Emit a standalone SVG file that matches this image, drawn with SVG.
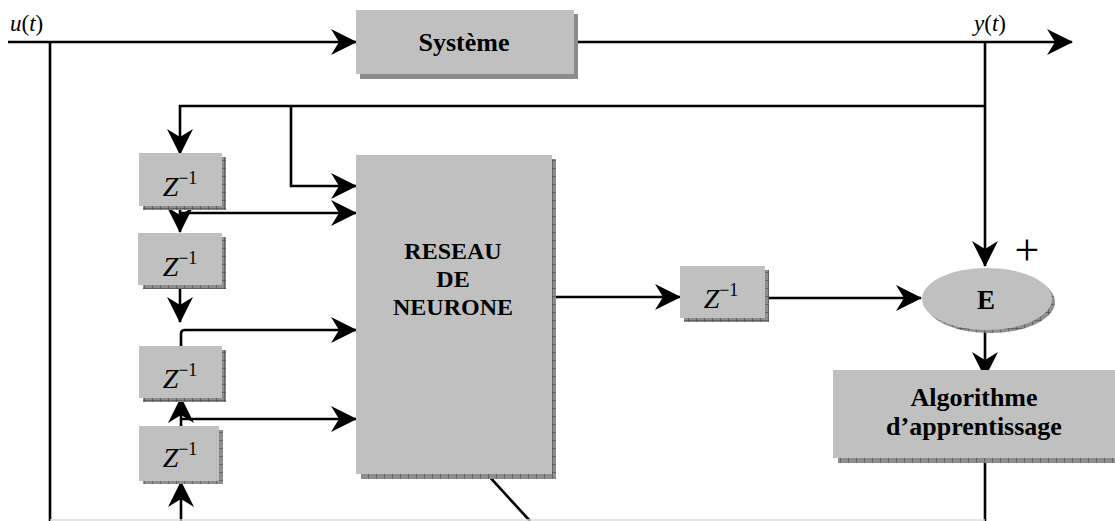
<svg xmlns="http://www.w3.org/2000/svg" width="1115" height="521" viewBox="0 0 1115 521">
  <defs>
    <style>
      .box { fill: #c0c0c0; }
      .shade { fill: url(#tick); }
      .flat { fill: #8c8c8c; }
      .wire { fill: none; stroke: #000; stroke-width: 2.6; }
      .arr { marker-end: url(#head); }
      .lbl { font-family: "Liberation Serif", "Times New Roman", serif; fill: #000; }
      .bold { font-weight: bold; }
      .z { font-size: 28px; }
      .sup { font-size: 18px; }
    </style>
    <pattern id="tick" width="8" height="8" patternUnits="userSpaceOnUse">
      <rect width="8" height="8" fill="#8e8e8e"/>
      <path d="M0,0 V8 M0,0 H8" stroke="#3a3a3a" stroke-width="1"/>
    </pattern>
    <marker id="head" viewBox="0 0 26 26" refX="25" refY="13" markerWidth="26" markerHeight="26" markerUnits="userSpaceOnUse" orient="auto">
      <path d="M0,0 L26,13 L0,26 L8,13 Z" fill="#000"/>
    </marker>
  </defs>

  <!-- signal wiring -->
  <g id="connectors">
    <path class="wire arr" d="M8,42 H356"/>
    <path class="wire arr" d="M574,42 H1072"/>
    <path class="wire" d="M50,42 V521"/>
    <path class="wire arr" d="M985,42 V266"/>
    <path class="wire arr" d="M985,106 H180 V154"/>
    <path class="wire arr" d="M291,106 V186 H356"/>
    <path class="wire arr" d="M180,206 V232"/>
    <path class="wire arr" d="M180,213 H356"/>
    <path class="wire arr" d="M180,285 V322"/>
    <path class="wire arr" d="M181,346 V334 Q181,330 185,330 H356"/>
    <path class="wire arr" d="M181,426 V398"/>
    <path class="wire arr" d="M181,419 H356"/>
    <path class="wire arr" d="M181,521 V482"/>
    <path class="wire" d="M487,474 L530,521"/>
    <path class="wire arr" d="M552,297 H680"/>
    <path class="wire arr" d="M768,298 H921"/>
    <path class="wire arr" d="M985,330 V377"/>
    <path class="wire" d="M985,458 V521"/>
    <path d="M50,520 H985" stroke="#dcdcdc" stroke-width="1.5" fill="none"/>
  </g>

  <!-- signal labels -->
  <g id="signal-u">
    <text class="lbl" x="10" y="31" font-size="23"><tspan font-style="italic">u</tspan>(<tspan font-style="italic">t</tspan>)</text>
  </g>
  <g id="signal-y">
    <text class="lbl" x="974" y="31" font-size="23"><tspan font-style="italic">y</tspan>(<tspan font-style="italic">t</tspan>)</text>
  </g>

  <g id="systeme">
    <rect class="flat" x="360" y="14" width="218" height="65"/>
    <rect class="box" x="356" y="10" width="218" height="64"/>
    <text class="lbl bold" x="464" y="51" font-size="26" text-anchor="middle">Système</text>
  </g>

  <g id="delay-1">
    <rect class="shade" x="143" y="157" width="83" height="53"/>
    <rect class="box" x="139" y="153" width="83" height="53"/>
    <text class="lbl z" x="180" y="196" text-anchor="middle"><tspan font-style="italic">Z</tspan><tspan class="sup" dy="-12">−1</tspan></text>
  </g>
  <g id="delay-2">
    <rect class="shade" x="143" y="237" width="83" height="52"/>
    <rect class="box" x="138" y="233" width="84" height="52"/>
    <text class="lbl z" x="180" y="276" text-anchor="middle"><tspan font-style="italic">Z</tspan><tspan class="sup" dy="-12">−1</tspan></text>
  </g>
  <g id="delay-3">
    <rect class="shade" x="143" y="350" width="83" height="52"/>
    <rect class="box" x="139" y="346" width="83" height="52"/>
    <text class="lbl z" x="180" y="388" text-anchor="middle"><tspan font-style="italic">Z</tspan><tspan class="sup" dy="-12">−1</tspan></text>
  </g>
  <g id="delay-4">
    <rect class="shade" x="143" y="430" width="80" height="54"/>
    <rect class="box" x="139" y="426" width="80" height="55"/>
    <text class="lbl z" x="180" y="467" text-anchor="middle"><tspan font-style="italic">Z</tspan><tspan class="sup" dy="-12">−1</tspan></text>
  </g>

  <g id="reseau">
    <rect class="shade" x="361" y="159" width="195" height="320"/>
    <rect class="box" x="356" y="155" width="196" height="319"/>
    <text class="lbl bold" x="453" y="259" font-size="24" text-anchor="middle">RESEAU</text>
    <text class="lbl bold" x="453" y="287" font-size="24" text-anchor="middle">DE</text>
    <text class="lbl bold" x="453" y="315" font-size="24" text-anchor="middle">NEURONE</text>
  </g>

  <g id="delay-out">
    <rect class="shade" x="684" y="270" width="85" height="52"/>
    <rect class="box" x="680" y="266" width="85" height="52"/>
    <text class="lbl z" x="721" y="308" text-anchor="middle"><tspan font-style="italic">Z</tspan><tspan class="sup" dy="-12">−1</tspan></text>
  </g>

  <g id="erreur">
    <ellipse class="shade" cx="990" cy="302" rx="65" ry="31"/>
    <ellipse class="box" cx="987" cy="299" rx="65" ry="31"/>
    <text class="lbl bold" x="986" y="309" font-size="27" text-anchor="middle">E</text>
    <text class="lbl" x="1027" y="265" font-size="44" text-anchor="middle">+</text>
  </g>

  <g id="algorithme">
    <rect class="shade" x="838" y="375" width="280" height="88"/>
    <rect class="box" x="833" y="370" width="285" height="88"/>
    <text class="lbl bold" x="974" y="406" font-size="26" text-anchor="middle">Algorithme</text>
    <text class="lbl bold" x="974" y="435" font-size="26" text-anchor="middle">d’apprentissage</text>
  </g>
</svg>
